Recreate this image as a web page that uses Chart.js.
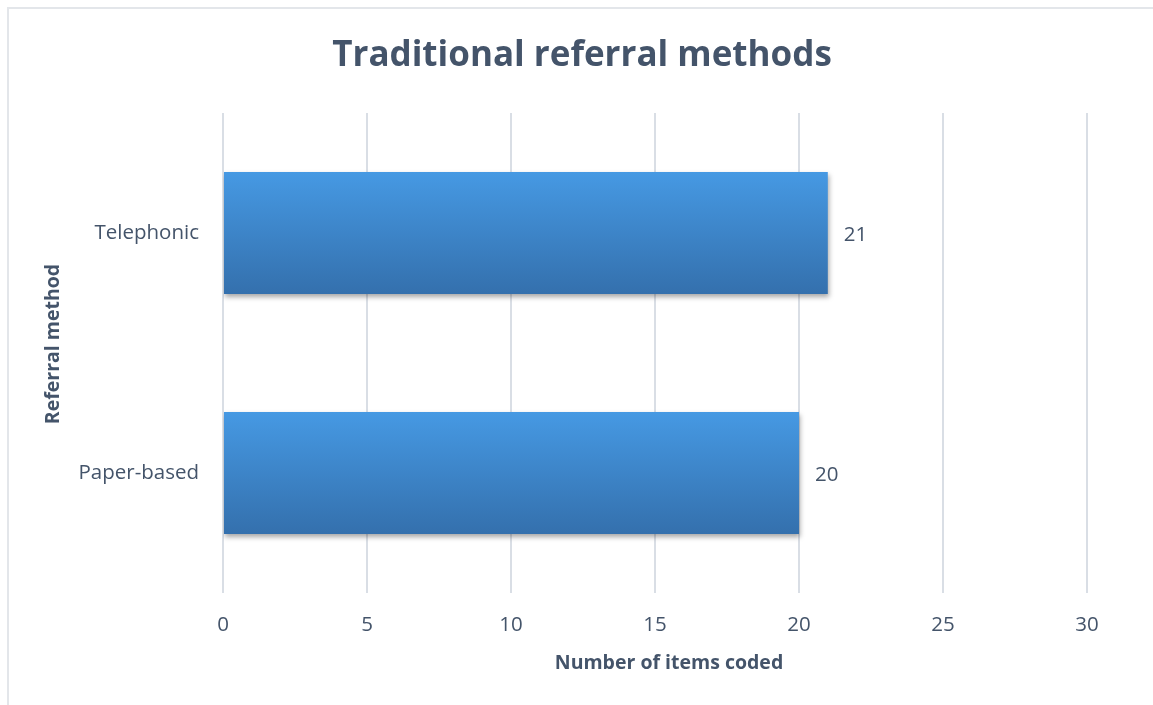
<!DOCTYPE html>
<html lang="en">
<head>
  <meta charset="UTF-8" />
  <title>Traditional referral methods</title>
  <script src="https://cdn.jsdelivr.net/npm/chart.js"></script>
  <style>
    html, body { margin: 0; padding: 0; background: #fff; overflow: hidden; }
    #wrap { position: relative; width: 1153px; height: 705px; }
    #frame { position: absolute; left: 7px; top: 7px; width: 1200px; height: 760px; border-left: 2px solid #E3E6EA; border-top: 2px solid #E3E6EA; box-sizing: border-box; pointer-events: none; }
    canvas { position: absolute; left: 0; top: 0; }
  </style>
</head>
<body>
  <div id="wrap">
    <canvas id="chart" width="1153" height="705"></canvas>
    <div id="frame"></div>
  </div>

  <script>
    const categories = ['Telephonic', 'Paper-based'];
    const itemsCoded = [21, 20];
    const xTicks = [0, 5, 10, 15, 20, 25, 30];

    const chartTitle = 'Traditional referral methods';
    const xTitle = 'Number of items coded';
    const yTitle = 'Referral method';

    const textColor = '#44546A';
    const fontFamily = '"Open Sans", "Liberation Sans", sans-serif';
    const barPct = 0.508;

    // vertical gradient for each bar, worked out from the category scale
    function barGradient(context) {
      const chart = context.chart;
      const yScale = chart.scales.y;
      if (!yScale || !chart.chartArea) return '#3F88D0';
      const c = yScale.getPixelForValue(context.dataIndex);
      const half = (yScale.height / categories.length) * barPct / 2;
      const g = chart.ctx.createLinearGradient(0, c - half, 0, c + half);
      g.addColorStop(0, '#4699E3');
      g.addColorStop(1, '#3470AD');
      return g;
    }

    const decorations = {
      id: 'decorations',
      beforeDatasetsDraw(chart) {
        const ctx = chart.ctx;
        ctx.save();
        ctx.shadowColor = 'rgba(0,0,0,0.35)';
        ctx.shadowBlur = 5;
        ctx.shadowOffsetY = 3;
        ctx.shadowOffsetX = 1;
      },
      afterDatasetsDraw(chart) {
        const ctx = chart.ctx;
        ctx.restore();
        ctx.save();
        ctx.fillStyle = textColor;
        ctx.textBaseline = 'middle';

        // value labels
        ctx.font = '20.5px ' + fontFamily;
        ctx.textAlign = 'left';
        chart.getDatasetMeta(0).data.forEach((bar, i) => {
          ctx.fillText(String(itemsCoded[i]), bar.x + 16, bar.y + 2);
        });

        // chart title
        ctx.textAlign = 'center';
        ctx.font = 'bold 35px ' + fontFamily;
        ctx.fillText(chartTitle, 582, 56);

        // axis titles
        ctx.font = 'bold 19.5px ' + fontFamily;
        ctx.fillText(xTitle, 669, 663);
        ctx.translate(53, 344);
        ctx.rotate(-Math.PI / 2);
        ctx.fillText(yTitle, 0, 0);
        ctx.restore();
      }
    };

    new Chart(document.getElementById('chart').getContext('2d'), {
      type: 'bar',
      data: {
        labels: categories,
        datasets: [{
          data: itemsCoded,
          backgroundColor: barGradient,
          barPercentage: barPct,
          categoryPercentage: 1
        }]
      },
      options: {
        indexAxis: 'y',
        responsive: false,
        animation: false,
        layout: { padding: { left: 0, right: 66, top: 113, bottom: 0 } },
        plugins: {
          legend: { display: false },
          tooltip: { enabled: false }
        },
        scales: {
          x: {
            min: 0,
            max: 30,
            afterBuildTicks(scale) { scale.ticks = xTicks.map(v => ({ value: v })); },
            afterFit(scale) { scale.height = 112; },
            grid: { color: '#D9DEE5', lineWidth: 2, drawTicks: false },
            border: { display: false },
            ticks: { color: textColor, font: { family: fontFamily, size: 20.5 }, padding: 20 }
          },
          y: {
            afterFit(scale) { scale.width = 223; },
            grid: { display: false },
            border: { display: false },
            ticks: { color: textColor, font: { family: fontFamily, size: 20.5 }, padding: 16 }
          }
        }
      },
      plugins: [decorations]
    });
  </script>
</body>
</html>
